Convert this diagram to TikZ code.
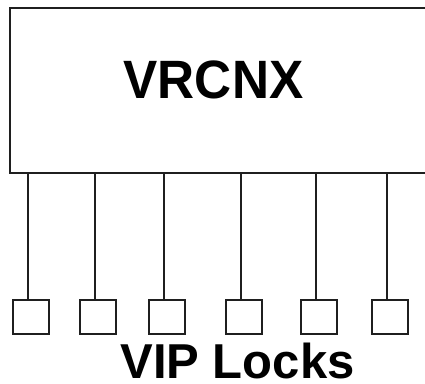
\documentclass[tikz,border=0pt]{standalone}
\usepackage{fontspec}
\setmainfont{Liberation Sans}
\begin{document}
\begin{tikzpicture}[x=1pt,y=-1pt,
  box/.style={draw=black!88,line width=2.2pt,fill=white,inner sep=0pt,outer sep=0pt},
  lock/.style={draw=black!88,line width=2.2pt,minimum width=36pt,minimum height=34pt,inner sep=0pt,outer sep=0pt},
  wire/.style={draw=black!88,line width=2pt},
  lbl/.style={font=\fontsize{54}{54}\selectfont\bfseries,inner sep=0pt}]
\clip (0,0) rectangle (425,383);
\fill[white] (0,0) rectangle (425,383);
\node[box,minimum width=430pt,minimum height=165pt,anchor=north west] (main) at (10,8) {};
\node[lbl,anchor=base] (title) at (213.5,98) {\scalebox{0.95}[1]{VRCNX}};
\foreach \i/\x in {1/31,2/98,3/167,4/244,5/319,6/390}{
  \node[lock] (sq\i) at (\x,317) {};
  \draw[wire] ([xshift=-3pt]sq\i.north) -- ([xshift=-3pt]sq\i.north |- main.south);
}
\node[font=\fontsize{49}{49}\selectfont\bfseries,inner sep=0pt,anchor=base] (locks) at (237.5,378) {VIP Locks};
\end{tikzpicture}
\end{document}
